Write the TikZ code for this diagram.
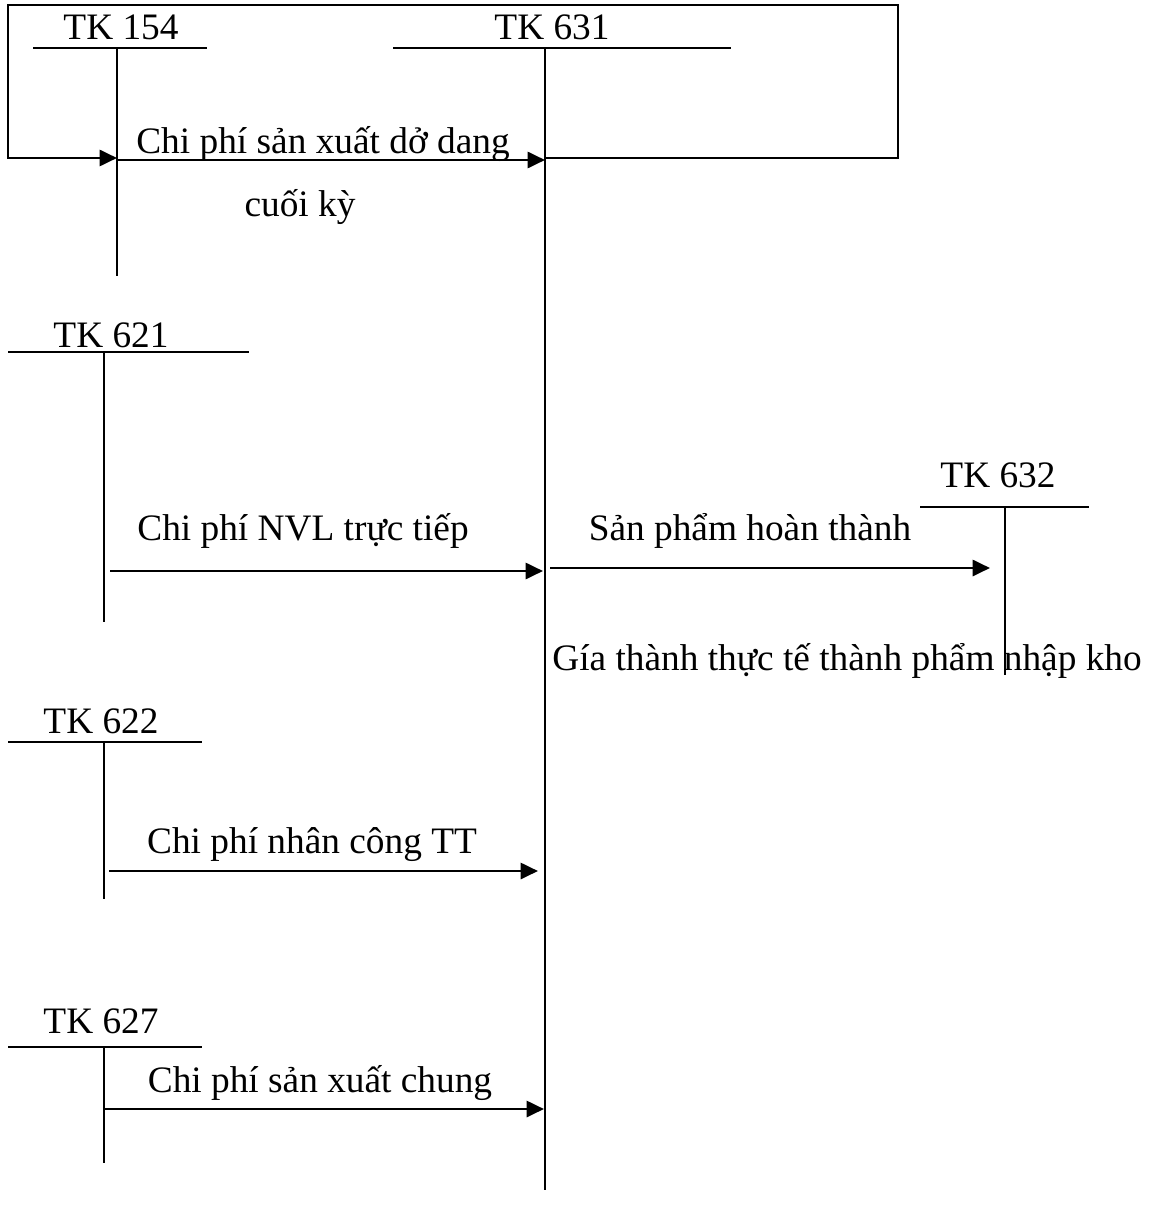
\documentclass[tikz,border=0pt]{standalone}
\usepackage{fontspec}
\setmainfont{Liberation Serif}
\usetikzlibrary{arrows.meta}

\tikzset{every picture/.style={line width=1.5pt}}
\tikzset{
	tline/.style={line width=1.5pt},
	flow/.style={line width=2.1pt,-{Triangle[length=13pt,width=12pt]}},
	lbl/.style={anchor=base,inner sep=0pt,font=\fontsize{28}{34}\selectfont}}

\begin{document}
\begin{tikzpicture}[x=0.75pt,y=0.75pt,yscale=-1]
	\useasboundingbox (0,0) rectangle (1151,1219);
	
	%T account: TK 154
	\node [lbl] (tk154) at (121,40) {TK 154};
	\coordinate (tk154l) at (33,48);
	\coordinate (tk154r) at (207,48);
	\coordinate (tk154t) at (117,48);
	\coordinate (tk154b) at (117,276);
	\draw [tline] (tk154l) -- (tk154r);
	\draw [tline] (tk154t) -- (tk154b);
	
	%T account: TK 631
	\node [lbl] (tk631) at (552,40) {TK 631};
	\coordinate (tk631l) at (393,48);
	\coordinate (tk631r) at (731,48);
	\coordinate (tk631t) at (545,48);
	\coordinate (tk631b) at (545,1190);
	\draw [tline] (tk631l) -- (tk631r);
	\draw [tline] (tk631t) -- (tk631b);
	
	%T account: TK 621
	\node [lbl] (tk621) at (111,347) {TK 621};
	\coordinate (tk621l) at (8,352);
	\coordinate (tk621r) at (249,352);
	\coordinate (tk621t) at (104,352);
	\coordinate (tk621b) at (104,622);
	\draw [tline] (tk621l) -- (tk621r);
	\draw [tline] (tk621t) -- (tk621b);
	
	%T account: TK 632
	\node [lbl] (tk632) at (998,487) {TK 632};
	\coordinate (tk632l) at (920,507);
	\coordinate (tk632r) at (1089,507);
	\coordinate (tk632t) at (1005,507);
	\coordinate (tk632b) at (1005,675);
	\draw [tline] (tk632l) -- (tk632r);
	\draw [tline] (tk632t) -- (tk632b);
	
	%T account: TK 622
	\node [lbl] (tk622) at (101,733) {TK 622};
	\coordinate (tk622l) at (8,742);
	\coordinate (tk622r) at (202,742);
	\coordinate (tk622t) at (104,742);
	\coordinate (tk622b) at (104,899);
	\draw [tline] (tk622l) -- (tk622r);
	\draw [tline] (tk622t) -- (tk622b);
	
	%T account: TK 627
	\node [lbl] (tk627) at (101,1033) {TK 627};
	\coordinate (tk627l) at (8,1047);
	\coordinate (tk627r) at (202,1047);
	\coordinate (tk627t) at (104,1047);
	\coordinate (tk627b) at (104,1163);
	\draw [tline] (tk627l) -- (tk627r);
	\draw [tline] (tk627t) -- (tk627b);
	
	%Loop: closing balance back to TK 154
	\coordinate (loopa) at (545,158);
	\coordinate (loopb) at (898,158);
	\coordinate (loopc) at (898,5);
	\coordinate (loopd) at (8,5);
	\coordinate (loope) at (8,158);
	\coordinate (loopf) at (117,158);
	\draw [flow] (loopa) -- (loopb) -- (loopc) -- (loopd) -- (loope) -- (loopf);
	
	%Straight Lines
	\coordinate (f154s) at (117,160);
	\coordinate (f154e) at (545,160);
	\draw [flow] (f154s) -- (f154e);
	\coordinate (f621s) at (110,571);
	\coordinate (f621e) at (543,571);
	\draw [flow] (f621s) -- (f621e);
	\coordinate (f632s) at (550,568);
	\coordinate (f632e) at (990,568);
	\draw [flow] (f632s) -- (f632e);
	\coordinate (f622s) at (109,871);
	\coordinate (f622e) at (538,871);
	\draw [flow] (f622s) -- (f622e);
	\coordinate (f627s) at (104,1109);
	\coordinate (f627e) at (544,1109);
	\draw [flow] (f627s) -- (f627e);
	
	% Text Node
	\node [lbl] (ddck) at (323,154) {Chi phí sản xuất dở dang};
	% Text Node
	\node [lbl] (ddck2) at (300,217) {cuối kỳ};
	% Text Node
	\node [lbl] (nvl) at (303,540) {Chi phí NVL trực tiếp};
	% Text Node
	\node [lbl] (sp) at (750,540) {Sản phẩm hoàn thành};
	% Text Node
	\node [lbl] (gia) at (847,670) {Gía thành thực tế thành phẩm nhập kho};
	% Text Node
	\node [lbl] (nc) at (312,853) {Chi phí nhân công TT};
	% Text Node
	\node [lbl] (sxc) at (320,1092) {Chi phí sản xuất chung};
	
\end{tikzpicture}
\end{document}
